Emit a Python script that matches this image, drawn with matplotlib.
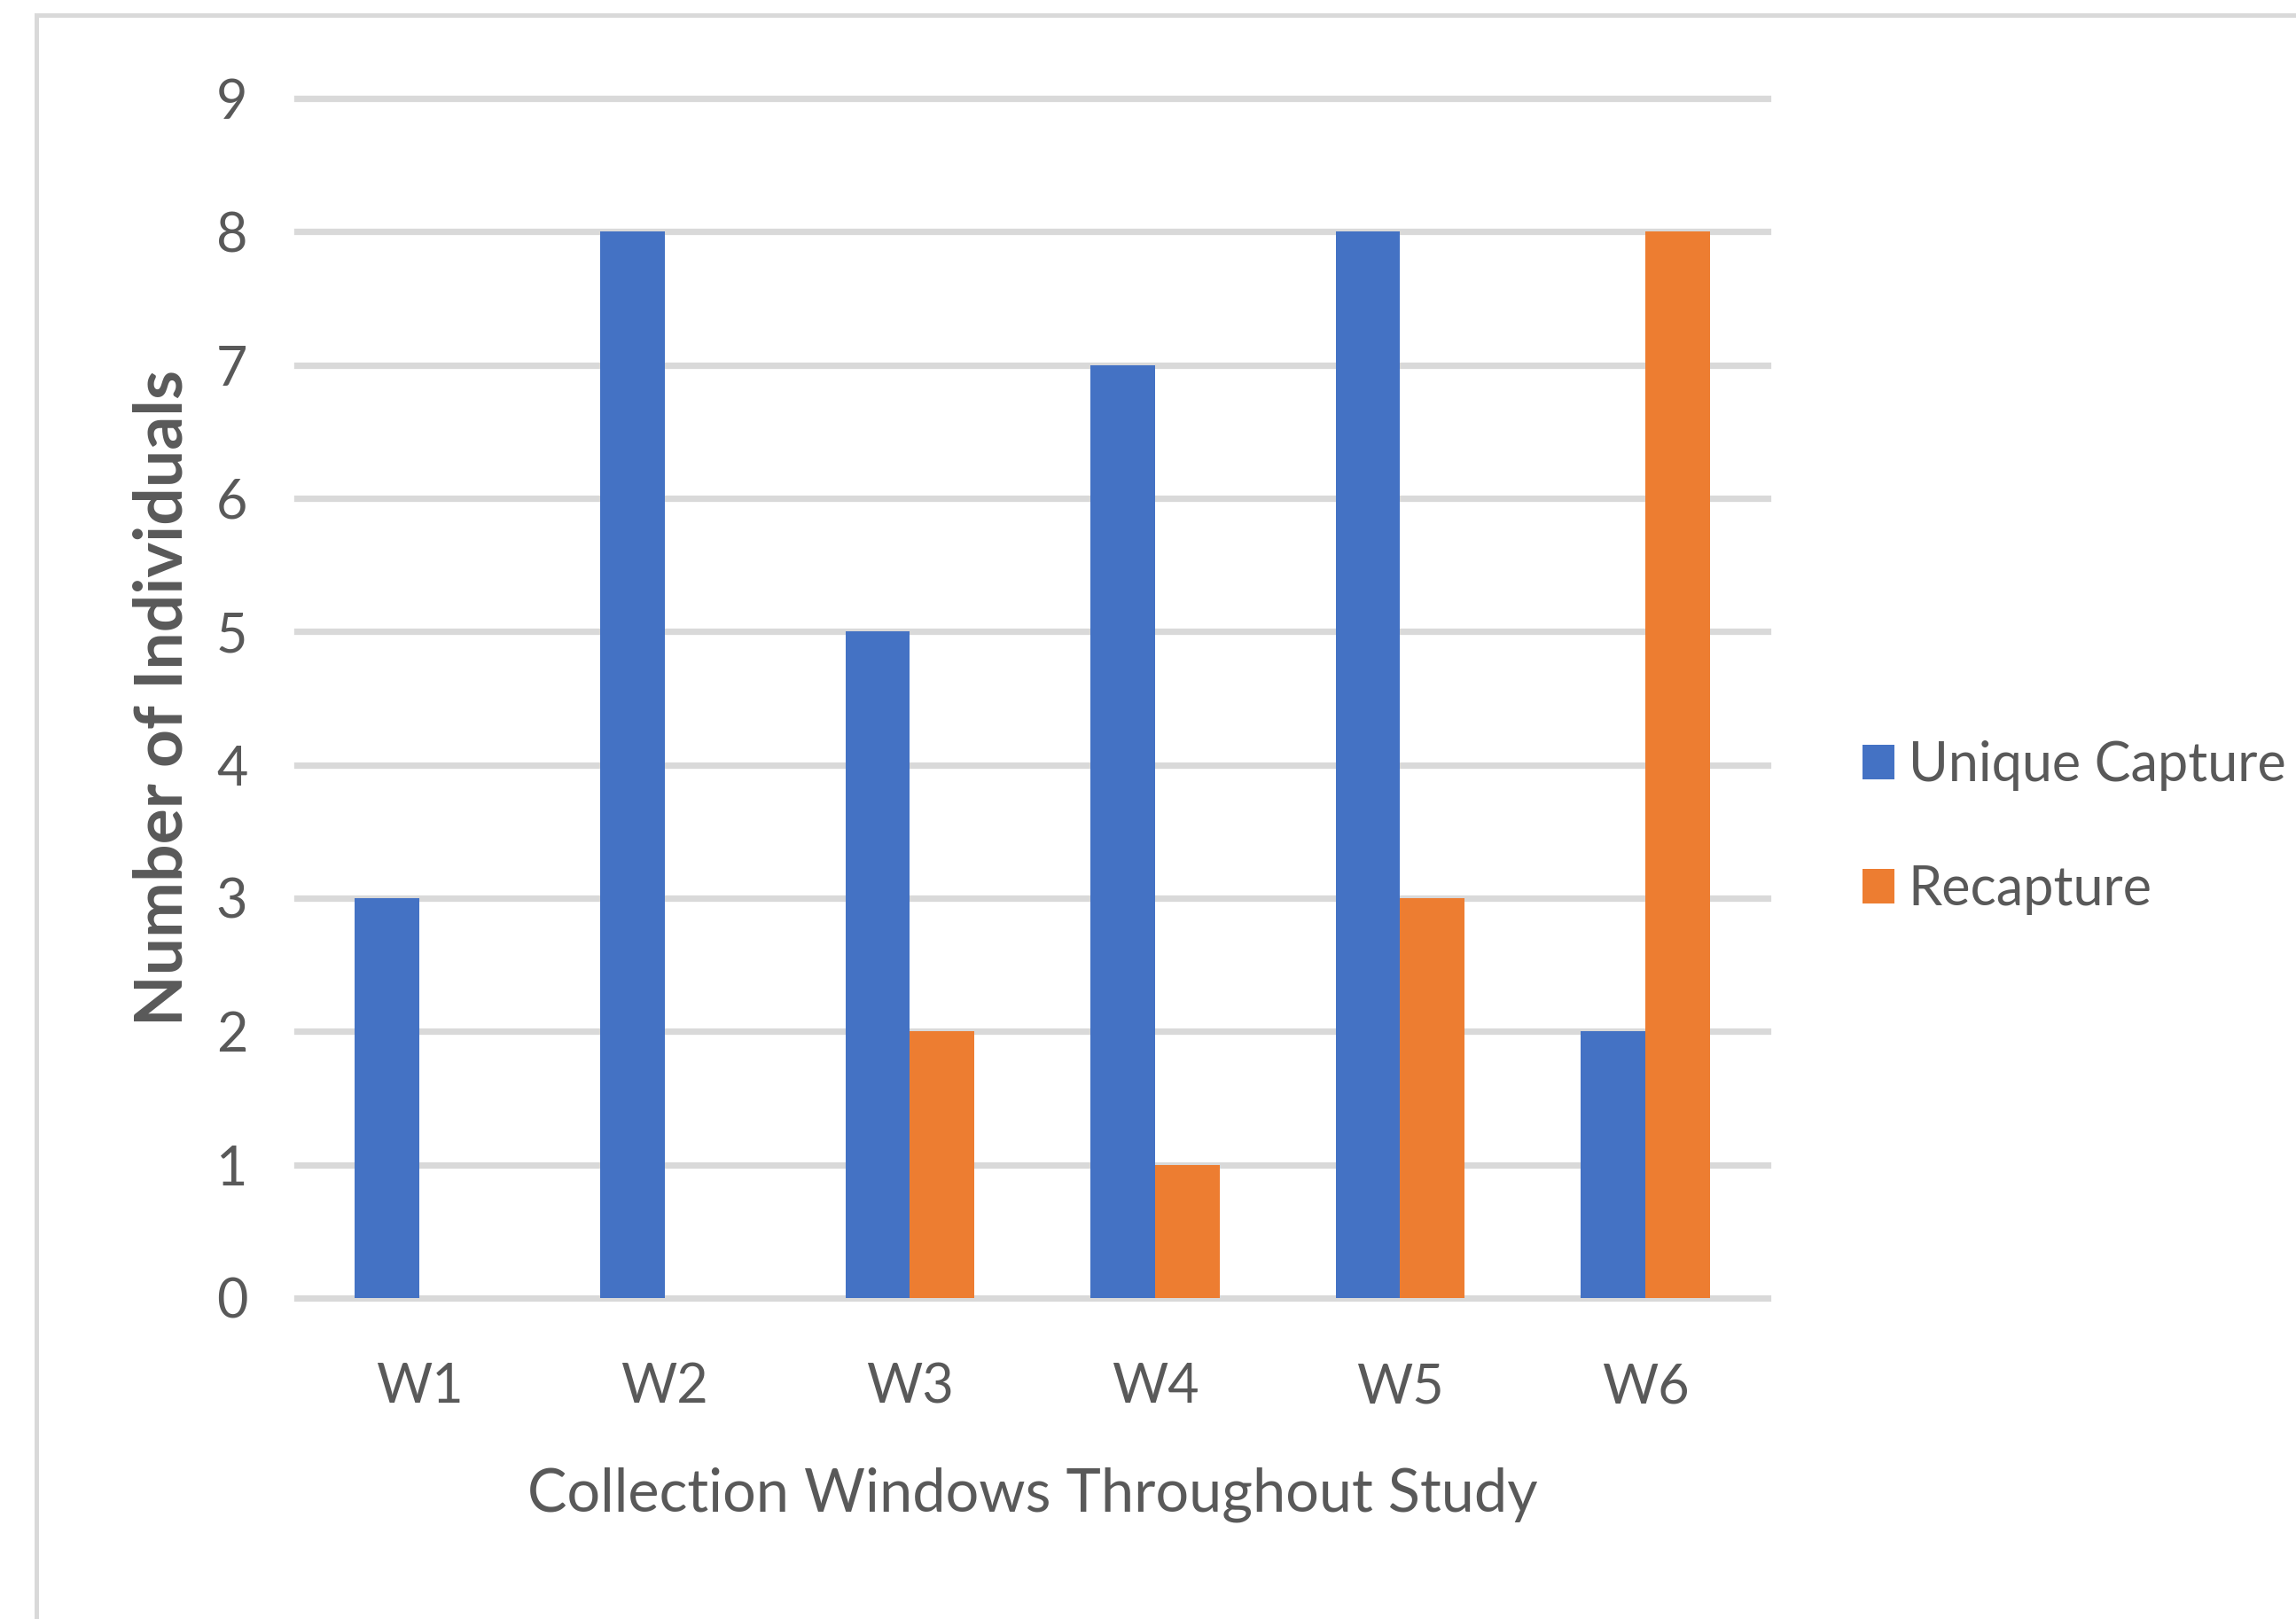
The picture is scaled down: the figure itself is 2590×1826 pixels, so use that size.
import matplotlib.pyplot as plt
from matplotlib.lines import Line2D
import numpy as np

windows = ["W1", "W2", "W3", "W4", "W5", "W6"]
unique_capture = [3, 8, 5, 7, 8, 2]
recapture = [0, 0, 2, 1, 3, 8]
y_ticks = list(range(0, 10))

blue = "#4472C4"
orange = "#ED7D31"
grey_text = "#595959"
grid_grey = "#D9D9D9"

plt.rcParams["font.family"] = ["Lato", "DejaVu Sans"]

fig = plt.figure(figsize=(12.95, 9.13), dpi=200)
ax = fig.add_axes([0.1293, 0.1983, 0.6407, 0.7409])

x = np.arange(len(windows))
w = 0.263
ax.bar(x - w / 2, unique_capture, width=w, color=blue, label="Unique Capture", zorder=3)
ax.bar(x + w / 2, recapture, width=w, color=orange, label="Recapture", zorder=3)

ax.set_xlim(-0.5, len(windows) - 0.5)
ax.set_ylim(0, 9)
ax.set_yticks(y_ticks)
ax.set_xticks(x)
ax.set_xticklabels(windows)

for yv in y_ticks:
    ax.axhline(yv, color=grid_grey, lw=2.6, zorder=1, clip_on=False)

for s in ax.spines.values():
    s.set_visible(False)
ax.tick_params(axis="both", length=0, labelsize=22, labelcolor=grey_text)
ax.tick_params(axis="y", pad=20)
ax.tick_params(axis="x", pad=26)

ax.set_ylabel("Number of Individuals", fontsize=27, fontweight="bold",
              color=grey_text, labelpad=9)
ax.set_xlabel("Collection Windows Throughout Study", fontsize=24,
              color=grey_text, labelpad=22)

leg = ax.legend(loc="center left", bbox_to_anchor=(1.031, 0.392), frameon=False,
                fontsize=22, labelcolor=grey_text, handlelength=0.6,
                handleheight=0.6, handletextpad=0.25, labelspacing=1.35)

# outer chart frame (top and left edges)
fig.add_artist(Line2D([41 / 2590, 41 / 2590], [0, 1 - 17 / 1826],
                      color=grid_grey, lw=1.8))
fig.add_artist(Line2D([41 / 2590, 1], [1 - 17 / 1826, 1 - 17 / 1826],
                      color=grid_grey, lw=1.8))

fig.savefig("out.png", dpi=200)
